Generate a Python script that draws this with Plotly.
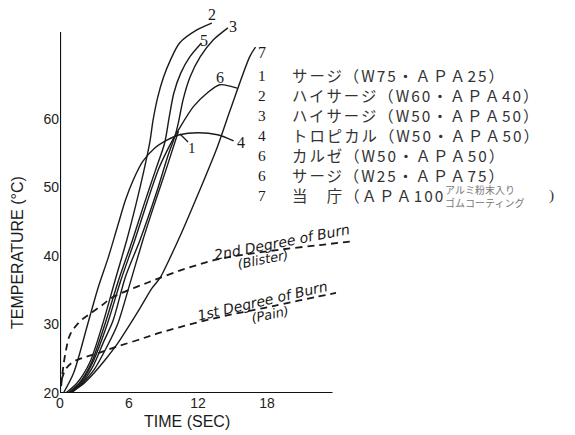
import plotly.graph_objects as go

# ---------------- data (time in s, temperature in °C) ----------------
c1_t = [1.0, 2.0, 3.0, 4.0, 5.0, 6.0, 7.2, 8.2, 9.2, 10.3]
c1_T = [20, 21.5, 23.5, 26.5, 30, 35.5, 42.3, 47.5, 52.5, 58.2]

c2_t = [0.5, 1.5, 2.6, 3.7, 4.8, 5.8, 6.6, 7.3, 7.8, 8.1, 8.5, 9.0, 9.6, 10.4, 11.9, 13.2]
c2_T = [20, 21.5, 24.5, 30, 36.5, 42.3, 47.5, 52.5, 56.5, 59.9, 63.2, 66.1, 68.6, 71.1, 73.0, 74.0]

c3_t = [0.9, 1.9, 2.9, 3.8, 4.6, 5.7, 6.95, 8.4, 9.4, 10.0, 10.3, 10.7, 11.3, 12.2, 13.3, 14.6]
c3_T = [20, 21.5, 24, 27.5, 30.5, 37, 42.3, 49.3, 54.7, 57.5, 59.5, 62.8, 66.1, 69.1, 71.5, 73.3]

c4_t = [0.3, 1.2, 2.4, 3.3, 4.2, 5.0, 5.7, 6.4, 7.2, 8.2, 9.3, 10.4, 12.0, 13.7, 15.1]
c4_T = [20, 23, 30, 35.3, 39.8, 44.3, 48.2, 51.2, 53.8, 55.7, 56.9, 57.7, 58.0, 57.7, 56.8]

c5_t = [0.7, 1.7, 2.7, 3.9, 5.1, 6.3, 7.3, 8.3, 9.1, 9.5, 9.9, 10.5, 11.3, 12.3]
c5_T = [20, 21.5, 24.3, 30, 36.5, 42.3, 47.5, 52.5, 56.5, 60.3, 63.8, 66.7, 69.1, 71.1]

c6_t = [0.8, 1.8, 2.8, 4.1, 5.3, 6.5, 7.6, 8.6, 9.5, 10.3, 11.6, 12.8, 13.9, 15.4]
c6_T = [20, 21.5, 24.3, 30, 36.5, 42.3, 48, 52.8, 56, 58.4, 61.8, 63.8, 65.0, 64.5]

c7_t = [0.8, 2.0, 3.0, 4.0, 5.0, 6.0, 7.0, 8.0, 8.7, 9.5, 10.6, 12.0, 13.7, 14.8, 16.5, 17.0]
c7_T = [20, 21.3, 23, 25, 27.2, 29.8, 32.5, 35.3, 36.8, 39.5, 43.5, 49.0, 56.0, 61.3, 69.1, 70.5]

burn2_t = [0.1, 0.3, 0.55, 0.87, 1.7, 2.8, 3.65, 4.5, 7.6, 11.0, 13.7, 16.0, 19.0, 22.6, 25.2]
burn2_T = [21.0, 24.0, 26.5, 28.5, 30.4, 31.8, 32.8, 33.9, 36.1, 38.2, 39.5, 40.2, 40.9, 41.6, 42.1]

burn1_t = [0.15, 0.5, 1.1, 1.9, 3.3, 4.8, 6.7, 8.7, 12.2, 15.0, 17.7, 19.4, 22.2, 24.0]
burn1_T = [22.0, 23.5, 24.5, 25.1, 25.8, 26.7, 27.7, 28.8, 30.4, 31.5, 32.4, 33.0, 34.0, 34.6]

x_ticks = [0, 6, 12, 18]
y_ticks = [20, 30, 40, 50, 60]
x_axis_end = 23.7
y_axis_end = 72.7

legend_nums = ["1", "2", "3", "4", "6", "6", "7"]
legend_text = [
    "サージ（W75・ＡＰＡ25）",
    "ハイサージ（W60・ＡＰＡ40）",
    "ハイサージ（W50・ＡＰＡ50）",
    "トロピカル（W50・ＡＰＡ50）",
    "カルゼ（W50・ＡＰＡ50）",
    "サージ（W25・ＡＰＡ75）",
    "当　庁（ＡＰＡ100",
]
legend_small_top = "アルミ粉末入り"
legend_small_bot = "ゴムコーティング"

curves = [
    ("1", c1_t, c1_T), ("2", c2_t, c2_T), ("3", c3_t, c3_T), ("4", c4_t, c4_T),
    ("5", c5_t, c5_T), ("6", c6_t, c6_T), ("7", c7_t, c7_T),
]

# ---------------- layout geometry ----------------
L, R, T_, B = 60, 216, 3, 42
W, H = 575, 435
PW, PH = W - L - R, H - T_ - B
X_RANGE = [0, PW / 11.5]
Y_RANGE = [20, 20 + PH / 6.85]


def pp(x, y):
    """pixel -> paper coordinates"""
    return (x - L) / PW, (H - B - y) / PH


fig = go.Figure()

for name, t, temp in curves:
    fig.add_trace(go.Scatter(x=t, y=temp, mode="lines", name=name,
                             line=dict(color="#1a1a1a", width=1.4, shape="spline", smoothing=0.8),
                             showlegend=False, hoverinfo="skip"))

for t, temp in [(burn2_t, burn2_T), (burn1_t, burn1_T)]:
    fig.add_trace(go.Scatter(x=t, y=temp, mode="lines",
                             line=dict(color="#1a1a1a", width=1.8, dash="7px,5px", shape="spline"),
                             showlegend=False, hoverinfo="skip"))

# axis lines
fig.add_shape(type="line", x0=0, x1=x_axis_end, y0=20, y1=20, xref="x", yref="y",
              line=dict(color="#111", width=2.2))
fig.add_shape(type="line", x0=0, x1=0, y0=20, y1=y_axis_end, xref="x", yref="y",
              line=dict(color="#111", width=2.2))

ann = []
serif = "Liberation Serif"
cjk = "Noto Sans CJK JP, " + serif


def add_text(text, x, y, size, family=serif, xanchor="center", angle=0, color="#1a1a1a",
             yanchor="middle"):
    xp, yp = pp(x, y)
    ann.append(dict(text=text, x=xp, y=yp, xref="paper", yref="paper", showarrow=False,
                    xanchor=xanchor, yanchor=yanchor, textangle=angle, align="left",
                    font=dict(family=family, size=size, color=color)))


# curve number labels
add_text("2", 212, 14, 16)
add_text("3", 233, 26, 16)
add_text("5", 204, 40, 16)
add_text("7", 262, 53, 16)
add_text("6", 220, 77, 16)
add_text("1", 192, 148, 15)
add_text("4", 241, 143, 16)

# leader for "1"
x0, y0 = pp(180, 134)
x1, y1 = pp(188, 142)
fig.add_shape(type="line", x0=x0, y0=y0, x1=x1, y1=y1, xref="paper", yref="paper",
              line=dict(color="#1a1a1a", width=1.2))

# legend block (line pitch 20 px -> font 15.4 with 1.3 line spacing)
LS = 15.4
spaced = ['<span style="letter-spacing:2px">%s</span>' % s for s in legend_text]
add_text("<br>".join(legend_nums), 262, 135, LS, family=serif)
add_text("<br>".join(spaced), 290, 135, LS, family=cjk, xanchor="left", color="#333")
add_text(legend_small_top + "<br>" + legend_small_bot, 443, 196, 10,
         family="Noto Sans CJK JP", xanchor="left", color="#777")
add_text(")", 547, 195, LS, family=serif, xanchor="left", color="#333")

# burn labels
add_text("<i>2nd Degree of Burn</i>", 282, 242, 14, family="DejaVu Sans", angle=-11)
add_text("<i>(Blister)</i>", 263, 259, 13, family="DejaVu Sans", angle=-11)
add_text("<i>1st Degree of Burn</i>", 262, 301, 14, family="DejaVu Sans", angle=-13)
add_text("<i>(Pain)</i>", 270, 314, 13, family="DejaVu Sans", angle=-12)

# axis titles
add_text("TEMPERATURE (°C)", 18, 253, 16, family="Liberation Sans", angle=-90)
add_text("TIME (SEC)", 187, 421, 16, family="Liberation Sans")

fig.update_layout(
    width=W, height=H, margin=dict(l=L, r=R, t=T_, b=B),
    paper_bgcolor="white", plot_bgcolor="white",
    annotations=ann,
    xaxis=dict(range=X_RANGE, tickvals=x_ticks, ticktext=[str(v) for v in x_ticks],
               showgrid=False, zeroline=False, showline=False, ticks="",
               tickfont=dict(family="Liberation Sans", size=14, color="#222")),
    yaxis=dict(range=Y_RANGE, tickvals=y_ticks, ticktext=[str(v) for v in y_ticks],
               showgrid=False, zeroline=False, showline=False, ticks="",
               tickfont=dict(family="Liberation Sans", size=14, color="#222")),
)

fig.write_html("out.html", config={"displayModeBar": False},
               post_script="document.body.style.margin='0';")
